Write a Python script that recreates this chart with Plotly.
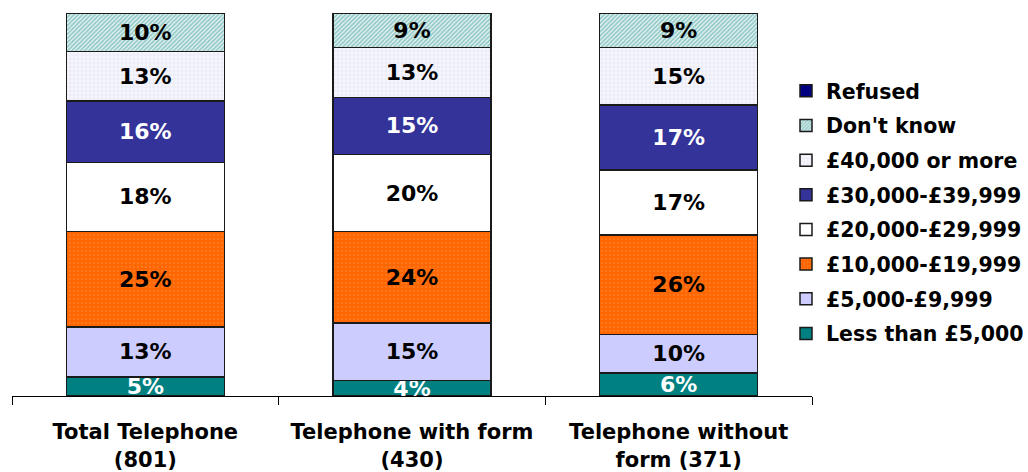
import plotly.graph_objects as go

# Survey groups on the x axis
groups = ["Total Telephone<br>(801)", "Telephone with form<br>(430)", "Telephone without<br>form (371)"]

# Household income bands, bottom of the stack first (percent of respondents)
less_than_5k = [5, 4, 6]
band_5k_10k = [13, 15, 10]
band_10k_20k = [25, 24, 26]
band_20k_30k = [18, 20, 17]
band_30k_40k = [16, 15, 17]
band_40k_plus = [13, 13, 15]
dont_know = [10, 9, 9]
refused = [0, 0, 0]

series = [
    ("Less than £5,000", less_than_5k, dict(color="#008080"), "white", True),
    ("£5,000-£9,999", band_5k_10k, dict(color="#ccccff"), "black", True),
    ("£10,000-£19,999", band_10k_20k,
     dict(color="#ff6600", pattern=dict(shape=".", fgcolor="#ff8a3d", bgcolor="#ff6600", size=4, solidity=0.25)),
     "black", True),
    ("£20,000-£29,999", band_20k_30k, dict(color="#ffffff"), "black", True),
    ("£30,000-£39,999", band_30k_40k, dict(color="#333399"), "white", True),
    ("£40,000 or more", band_40k_plus,
     dict(color="#f4f4fb", pattern=dict(shape="+", fgcolor="#d6d6ee", bgcolor="#f6f6fc", size=4, solidity=0.3)),
     "black", True),
    ("Don't know", dont_know,
     dict(color="#ffffff", pattern=dict(shape="/", fgcolor="#2f9a94", bgcolor="#ffffff", size=3, solidity=0.7)),
     "black", True),
    ("Refused", refused, dict(color="#000080"), "white", False),
]

FONT = "DejaVu Sans"

fig = go.Figure()
for i, (name, vals, marker, txtcol, show_text) in enumerate(series):
    fig.add_trace(go.Bar(
        x=groups,
        y=vals,
        name=name,
        legendgroup=f"g{i}",
        legendrank=len(series) - i,  # top band listed first in the legend
        marker=dict(**marker, line=dict(color="#1a1a1a", width=1.5)),
        text=[f"{v}%" for v in vals] if show_text else None,
        textposition="inside",
        insidetextanchor="middle",
        textfont=dict(family=FONT, size=22, color=txtcol, weight="bold"),
        hoverinfo="name+y",
    ))

fig.update_layout(
    barmode="stack",
    bargap=0.408,
    width=1028,
    height=472,
    margin=dict(l=12, r=216, t=13, b=76, autoexpand=False),
    paper_bgcolor="white",
    plot_bgcolor="white",
    font=dict(family=FONT, color="black"),
    uniformtext=dict(minsize=22, mode="show"),
    showlegend=True,
    legend=dict(
        xref="container", yref="container",
        x=786 / 1028, xanchor="left",
        y=1 - 71 / 472, yanchor="top",
        traceorder="grouped",
        tracegroupgap=5,
        maxheight=420,
        font=dict(family=FONT, size=20.5, color="black", weight="bold"),
        bgcolor="rgba(0,0,0,0)",
    ),
    xaxis=dict(
        type="category",
        range=[-0.5, 2.5],
        showline=True, linecolor="black", linewidth=1,
        ticks="outside", tickson="boundaries", ticklen=8, tickcolor="black", tickwidth=1,
        showgrid=False, zeroline=False,
        tickfont=dict(family=FONT, size=21, color="black", weight="bold"),
        ticklabelstandoff=17,
    ),
    yaxis=dict(range=[0, 100], visible=False, showgrid=False, zeroline=False),
)

fig.write_html("out.html")
